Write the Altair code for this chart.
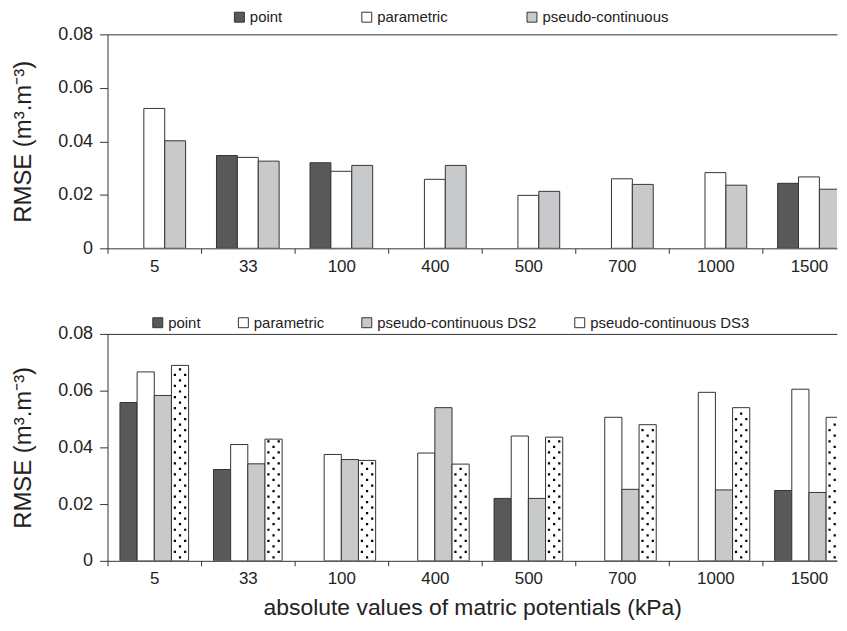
import json
import pandas as pd
import altair as alt

categories = ["5", "33", "100", "400", "500", "700", "1000", "1500"]

top_series = ["point", "parametric", "pseudo-continuous"]
top_point = [None, 0.0347, 0.0320, None, None, None, None, 0.0243]
top_parametric = [0.0523, 0.0340, 0.0288, 0.0258, 0.0198, 0.0260, 0.0283, 0.0267]
top_pseudo = [0.0402, 0.0326, 0.0310, 0.0310, 0.0213, 0.0239, 0.0236, 0.0221]

bot_series = ["point", "parametric", "pseudo-continuous DS2", "pseudo-continuous DS3"]
bot_point = [0.0558, 0.0322, None, None, 0.0220, None, None, 0.0248]
bot_parametric = [0.0666, 0.0410, 0.0375, 0.0380, 0.0440, 0.0506, 0.0594, 0.0605]
bot_ds2 = [0.0583, 0.0342, 0.0357, 0.0540, 0.0220, 0.0252, 0.0250, 0.0241]
bot_ds3 = [0.0689, 0.0429, 0.0354, 0.0341, 0.0436, 0.0480, 0.0540, 0.0506]

y_ticks = [0, 0.02, 0.04, 0.06, 0.08]

top_colors = ["#58595b", "#ffffff", "#c8c9cb"]
bot_colors = ["#58595b", "#ffffff", "#c8c9cb", "#ffffff"]

FONT = "Liberation Sans"
INK = "#222222"
LINE = "#333333"
X_DOMAIN = [0, 7.8]
W = 733


def long_table(names, arrays):
    rows = []
    for s, (name, arr) in enumerate(zip(names, arrays)):
        for i, v in enumerate(arr):
            if v is not None:
                rows.append({"idx": i, "cat": categories[i], "series": name, "s": s, "value": v})
    return pd.DataFrame(rows)


top_df = long_table(top_series, [top_point, top_parametric, top_pseudo])
bot_df = long_table(bot_series, [bot_point, bot_parametric, bot_ds2, bot_ds3])

# dotted texture rows for the DS3 bars (derived from the DS3 values)
dot_rows = []
for i, v in enumerate(bot_ds3):
    k = 0
    while True:
        yv = 0.0012 + k * 0.00195
        if yv > v - 0.0007:
            break
        fracs = [0.5] if k % 2 == 0 else [0.2, 0.8]
        for f in fracs:
            dot_rows.append({"idx": i, "frac": f, "yd": yv})
        k += 1
dots_df = pd.DataFrame(dot_rows)

label_expr = "datum.value % 1 ? " + json.dumps(categories) + "[floor(datum.value)] : ''"
x_values = [i * 0.5 for i in range(16)]


def x_axis(title=None):
    kw = dict(
        values=x_values,
        labelExpr=label_expr,
        tickOpacity={"condition": {"test": "datum.value % 1 !== 0", "value": 0}, "value": 1},
        tickSize=5,
        tickColor=LINE,
        domainColor=LINE,
        labelFontSize=17,
        labelColor=INK,
        labelFont=FONT,
        labelPadding=5,
        labelOverlap=False,
        labelFlush=False,
        grid=False,
    )
    if title:
        kw.update(title=title, titleFontSize=23, titleFont=FONT, titleColor=INK,
                  titleFontWeight="normal", titlePadding=10)
    else:
        kw.update(title=None)
    return alt.Axis(**kw)


y_axis = alt.Axis(
    values=y_ticks,
    labelExpr="datum.value == 0 ? '0' : format(datum.value, '.2f')",
    title="RMSE (m³.m⁻³)",
    titleFontSize=24,
    titleFont=FONT,
    titleColor=INK,
    titleFontWeight="normal",
    titlePadding=22,
    labelFontSize=18,
    labelFont=FONT,
    labelColor=INK,
    labelPadding=7,
    tickSize=8,
    tickColor=LINE,
    domainColor=LINE,
    grid=True,
    gridColor=LINE,
    gridOpacity={"condition": {"test": "datum.value > 0.079", "value": 1}, "value": 0},
)


def legend(xpos, ypos, pad):
    return alt.Legend(
        title=None,
        orient="none",
        legendX=xpos,
        legendY=ypos,
        direction="horizontal",
        symbolType="square",
        symbolSize=100,
        symbolStrokeColor=LINE,
        symbolStrokeWidth=1,
        symbolOpacity=1,
        labelFontSize=15,
        labelFont=FONT,
        labelColor=INK,
        labelOffset=3,
        labelLimit=400,
        columnPadding=pad,
    )


def bar_layer(df, names, colors, nser, leg, xaxis):
    w = 0.67 / nser if nser == 3 else 0.734 / nser
    start = (1 - w * nser) / 2
    return (
        alt.Chart(df)
        .transform_calculate(
            x0=f"datum.idx + {start} + datum.s * {w}",
            x1=f"datum.idx + {start} + (datum.s + 1) * {w}",
        )
        .mark_bar(stroke=LINE, strokeWidth=1, clip=True)
        .encode(
            x=alt.X("x0:Q", scale=alt.Scale(domain=X_DOMAIN, nice=False, zero=False), axis=xaxis),
            x2="x1:Q",
            y=alt.Y("value:Q", scale=alt.Scale(domain=[0, 0.08], nice=False), axis=y_axis),
            y2=alt.datum(0),
            color=alt.Color("series:N", scale=alt.Scale(domain=names, range=colors), legend=leg),
        )
    ), w, start


no_frame = alt.ViewBackground(stroke="transparent", strokeWidth=0, strokeOpacity=0)

top_bars, _, _ = bar_layer(top_df, top_series, top_colors, 3,
                           legend(125, -25, 77), x_axis())
top = top_bars.properties(width=W, height=215, view=no_frame)

bot_bars, wb, sb = bar_layer(bot_df, bot_series, bot_colors, 4,
                             legend(43, -19, 35),
                             x_axis("absolute values of matric potentials (kPa)"))

dots = (
    alt.Chart(dots_df)
    .transform_calculate(xd=f"datum.idx + {sb} + (3 + datum.frac) * {wb}")
    .mark_square(size=5, color="#000000", opacity=1, clip=True)
    .encode(
        x=alt.X("xd:Q", scale=alt.Scale(domain=X_DOMAIN, nice=False, zero=False)),
        y=alt.Y("yd:Q", scale=alt.Scale(domain=[0, 0.08], nice=False)),
    )
)

bottom = alt.layer(bot_bars, dots).properties(width=W, height=228, view=no_frame)

chart = (
    alt.vconcat(top, bottom, spacing=86, bounds="flush")
    .resolve_scale(color="independent")
    .resolve_legend(color="independent")
    .properties(padding={"left": 3, "top": 0, "right": 2, "bottom": 2})
    .configure_view(stroke="transparent", strokeWidth=0, strokeOpacity=0)
    .configure(background="white")
)

chart.save("out.html", embed_options={"renderer": "svg", "actions": False})
